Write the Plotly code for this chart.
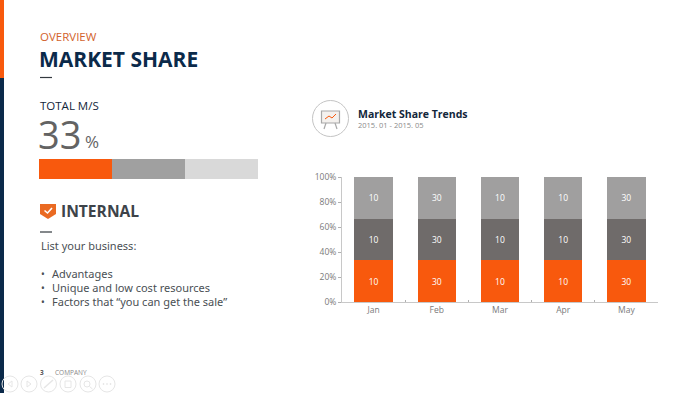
import plotly.graph_objects as go

months = ["Jan", "Feb", "Mar", "Apr", "May"]
series_bottom = [10, 30, 10, 10, 30]
series_middle = [10, 30, 10, 10, 30]
series_top = [10, 30, 10, 10, 30]
share_parts = [33.3, 33.3, 33.4]
y_ticks = [0, 20, 40, 60, 80, 100]
y_labels = ["0%", "20%", "40%", "60%", "80%", "100%"]

ORANGE = "#f8590d"
DARK = "#6f6b6a"
MID = "#a09f9f"
LIGHT = "#d9d9d9"
PROG_MID = "#a0a0a0"
NAVY = "#0b2a4a"
W, H = 700, 393
FONT = "Open Sans"


def px(x):
    return x / W


def py(y):
    return 1 - y / H


fig = go.Figure()
for name, vals, col in [("A", series_bottom, ORANGE), ("B", series_middle, DARK), ("C", series_top, MID)]:
    fig.add_trace(go.Bar(
        x=months, y=vals, name=name, marker=dict(color=col, line=dict(width=0)),
        text=[str(v) for v in vals], textposition="inside", insidetextanchor="middle",
        textangle=0, constraintext="none",
        textfont=dict(family=FONT, size=8.5, color="#ffffff"),
        hoverinfo="skip", xaxis="x", yaxis="y",
    ))

for val, col in zip(share_parts, [ORANGE, PROG_MID, LIGHT]):
    fig.add_trace(go.Bar(
        y=["share"], x=[val], orientation="h", marker=dict(color=col, line=dict(width=0)),
        width=1, hoverinfo="skip", xaxis="x2", yaxis="y2", showlegend=False,
    ))

shapes = [
    dict(type="rect", xref="paper", yref="paper", x0=0, x1=px(4), y0=py(78), y1=py(0),
         fillcolor=ORANGE, line_width=0),
    dict(type="rect", xref="paper", yref="paper", x0=0, x1=px(4), y0=py(393), y1=py(78),
         fillcolor=NAVY, line_width=0),
    dict(type="line", xref="paper", yref="paper", x0=px(40), x1=px(52), y0=py(77.5), y1=py(77.5),
         line=dict(color="#33393f", width=1.2)),
    dict(type="line", xref="paper", yref="paper", x0=px(40), x1=px(52), y0=py(232), y1=py(232),
         line=dict(color="#33393f", width=1.2)),
    # chart emblem
    dict(type="circle", xref="paper", yref="paper", x0=px(312.5), x1=px(348.5), y0=py(136.5), y1=py(100.5),
         line=dict(color="#c4c4c4", width=1), fillcolor="#ffffff"),
    dict(type="rect", xref="paper", yref="paper", x0=px(321.5), x1=px(339.5), y0=py(123), y1=py(111),
         line=dict(color="#a8a8a8", width=1.2), fillcolor="#f4f1ee"),
    dict(type="path", xref="paper", yref="paper",
         path=f"M {px(325)} {py(119)} L {px(329)} {py(116)} L {px(332)} {py(118)} L {px(336)} {py(114)}",
         line=dict(color=ORANGE, width=1)),
    dict(type="line", xref="paper", yref="paper", x0=px(326), x1=px(324), y0=py(123), y1=py(129),
         line=dict(color="#a8a8a8", width=1.2)),
    dict(type="line", xref="paper", yref="paper", x0=px(335), x1=px(337), y0=py(123), y1=py(129),
         line=dict(color="#a8a8a8", width=1.2)),
    # shield
    dict(type="path", xref="paper", yref="paper",
         path=(f"M {px(40)} {py(204)} L {px(56)} {py(204)} L {px(56)} {py(214)} "
               f"L {px(48)} {py(219)} L {px(40)} {py(214)} Z"),
         fillcolor="#ea6a22", line_width=0),
    dict(type="path", xref="paper", yref="paper",
         path=f"M {px(44.5)} {py(210.5)} L {px(47.5)} {py(213)} L {px(52)} {py(208)}",
         line=dict(color="#ffffff", width=1.6)),
]

# slide-show controls
for cx in [10, 29, 48.5, 68, 88, 107]:
    shapes.append(dict(type="circle", xref="paper", yref="paper",
                       x0=px(cx - 8), x1=px(cx + 8), y0=py(392), y1=py(376),
                       line=dict(color="#e6e6e6", width=1), fillcolor="rgba(255,255,255,0)"))
shapes += [
    dict(type="path", xref="paper", yref="paper",
         path=f"M {px(12)} {py(381)} L {px(8)} {py(384)} L {px(12)} {py(387)} Z",
         line=dict(color="#e6e6e6", width=1)),
    dict(type="path", xref="paper", yref="paper",
         path=f"M {px(27)} {py(381)} L {px(31)} {py(384)} L {px(27)} {py(387)} Z",
         line=dict(color="#e6e6e6", width=1)),
    dict(type="line", xref="paper", yref="paper", x0=px(44), x1=px(53), y0=py(388), y1=py(380),
         line=dict(color="#e6e6e6", width=1.5)),
    dict(type="rect", xref="paper", yref="paper", x0=px(65), x1=px(71), y0=py(387.5), y1=py(381),
         line=dict(color="#e6e6e6", width=1)),
    dict(type="circle", xref="paper", yref="paper", x0=px(84), x1=px(90), y0=py(387), y1=py(381),
         line=dict(color="#e6e6e6", width=1)),
    dict(type="line", xref="paper", yref="paper", x0=px(89.5), x1=px(92.5), y0=py(386.5), y1=py(389),
         line=dict(color="#e6e6e6", width=1)),
]
for cx in [103.5, 107, 110.5]:
    shapes.append(dict(type="circle", xref="paper", yref="paper",
                       x0=px(cx - 0.8), x1=px(cx + 0.8), y0=py(384.8), y1=py(383.2),
                       fillcolor="#dcdcdc", line_width=0))


def label(text, x, y, size, color, family=FONT, weight=None):
    fnt = dict(family=family, size=size, color=color)
    if weight:
        fnt["weight"] = weight
    return dict(text=text, x=px(x), y=py(y), xref="paper", yref="paper",
                xanchor="left", yanchor="middle", showarrow=False, font=fnt, align="left")


NARROW = "Noto Sans"
annotations = [
    label("OVERVIEW", 37.5, 36.5, 11.5, "#d2622b"),
    label("<b>MARKET SHARE</b>", 36.5, 59, 21, NAVY),
    label("TOTAL M/S", 37.5, 105.5, 11.5, "#12263a"),
    label("33", 36, 134, 38, "#636363"),
    label("%", 83, 141, 17, "#636363"),
    label("<b>INTERNAL</b>", 59, 210.5, 15.6, "#3d4349"),
    label("List your business:", 39, 245, 11, "#4a4f54", NARROW),
    label("•", 39, 273.5, 10, "#4a4f54", NARROW),
    label("•", 39, 287.5, 10, "#4a4f54", NARROW),
    label("•", 39, 301.5, 10, "#4a4f54", NARROW),
    label("Advantages", 49.5, 273.5, 11, "#4a4f54", NARROW),
    label("Unique and low cost resources", 49.5, 287.5, 11, "#4a4f54", NARROW),
    label("Factors that “you can get the sale”", 49.5, 301.5, 11, "#4a4f54", NARROW),
    label("<b>3</b>", 37.5, 372.5, 6.5, "#555555"),
    label("COMPANY", 52.5, 372.5, 6.5, "#8a8a8a"),
    label("<b>Market Share Trends</b>", 355.5, 114, 10.5, "#12263a"),
    label("2015. 01 - 2015. 05", 355.5, 125, 7.5, "#8a8a8a"),
]

fig.update_layout(
    width=W, height=H, margin=dict(l=0, r=0, t=0, b=0, autoexpand=False), autosize=False,
    paper_bgcolor="#ffffff", plot_bgcolor="#ffffff",
    barmode="stack", barnorm="percent", bargap=0.39, showlegend=False,
    shapes=shapes, annotations=annotations,
    xaxis=dict(domain=[px(342), px(658)], anchor="y", categoryorder="array", categoryarray=months,
               automargin=False, showgrid=False, showline=True, linecolor="#c8c8c8", linewidth=1,
               ticks="inside", ticklen=2, tickcolor="#b0b0b0", tickson="boundaries",
               tickfont=dict(family=FONT, size=8.5, color="#7a7a7a"), fixedrange=True),
    yaxis=dict(domain=[py(302), py(177)], anchor="x", range=[0, 100],
               tickvals=y_ticks, ticktext=y_labels, automargin=False,
               showgrid=False, showline=True, linecolor="#c8c8c8", linewidth=1,
               ticks="outside", ticklen=3, tickcolor="#b0b0b0",
               tickfont=dict(family=FONT, size=8.5, color="#7a7a7a"), fixedrange=True),
    xaxis2=dict(domain=[px(39), px(258)], anchor="y2", range=[0, 100], visible=False,
                automargin=False, fixedrange=True),
    yaxis2=dict(domain=[py(179), py(159)], anchor="x2", visible=False,
                automargin=False, fixedrange=True),
)

fig.write_html("out.html", config={"displayModeBar": False},
               post_script="document.body.style.margin='0';document.documentElement.style.overflow='hidden';")
